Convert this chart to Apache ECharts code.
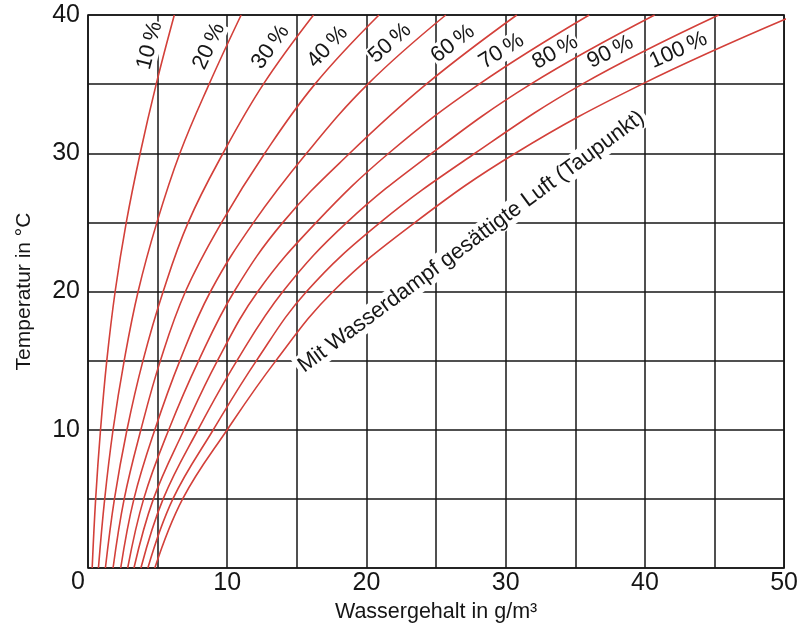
<!DOCTYPE html>
<html>
<head>
<meta charset="utf-8">
<script src="https://cdn.jsdelivr.net/npm/echarts@6/dist/echarts.min.js"></script>
<style>
  html, body { margin: 0; padding: 0; background: #fff; }
  #chart { width: 801px; height: 632px; }
</style>
</head>
<body>
<div id="chart"></div>
<script>
// Temperature steps (°C) at which the water content of each curve is given
const temps = [0, 5, 10, 15, 20, 25, 30, 35, 40];

// Water content in g/m³ for each relative humidity
const rh10  = [0.3, 0.55, 0.9, 1.35, 1.95, 2.75, 3.75, 4.9, 6.2];
const rh20  = [0.75, 1.2, 1.8, 2.6, 3.6, 4.95, 6.6, 8.7, 11.0];
const rh30  = [1.25, 1.9, 2.8, 3.95, 5.4, 7.2, 9.7, 12.6, 16.2];
const rh40  = [1.8, 2.6, 3.8, 5.2, 7.0, 9.6, 12.7, 16.3, 20.9];
const rh50  = [2.35, 3.3, 4.8, 6.6, 8.8, 11.9, 15.7, 20.1, 25.7];
const rh60  = [2.85, 4.0, 5.8, 7.95, 10.5, 14.0, 18.8, 24.3, 30.8];
const rh70  = [3.3, 4.7, 6.9, 9.3, 12.2, 16.4, 21.6, 28.1, 36.0];
const rh80  = [3.8, 5.4, 7.9, 10.7, 14.0, 18.6, 24.7, 31.8, 40.7];
const rh90  = [4.3, 6.1, 9.0, 12.1, 15.7, 21.0, 27.8, 35.5, 45.3];
const rh100 = [4.8, 6.8, 10.0, 13.5, 17.6, 23.5, 30.7, 39.8, 50.8];

const curves = [rh10, rh20, rh30, rh40, rh50, rh60, rh70, rh80, rh90, rh100];
const curveLabels = ['10\u2009%', '20\u2009%', '30\u2009%', '40\u2009%', '50\u2009%',
                     '60\u2009%', '70\u2009%', '80\u2009%', '90\u2009%', '100\u2009%'];
const saturationText = 'Mit Wasserdampf gesättigte Luft (Taupunkt)';

const xTitle = 'Wassergehalt in g/m³';
const yTitle = 'Temperatur in °C';

// temperature along each curve where its percentage label sits
const labelTemps = [37.5, 37.25, 37, 36.9, 37.1, 37, 36.4, 36.3, 36.3, 36.4];

const RED = '#d3403a';
const INK = '#161616';
const FONT = '"Liberation Sans", Arial, Helvetica, sans-serif';

const chart = echarts.init(document.getElementById('chart'), null, { renderer: 'canvas' });

const series = curves.map((vals, i) => ({
  type: 'line',
  name: curveLabels[i],
  data: vals.map((w, j) => [w, temps[j]]),
  showSymbol: false,
  smooth: 0.4,
  clip: true,
  lineStyle: { color: RED, width: 1.6 },
  z: 5,
  silent: true
}));

chart.setOption({
  animation: false,
  grid: {
    left: 88, right: 13, top: 15, bottom: 64,
    show: true, borderColor: INK, borderWidth: 1.6
  },
  xAxis: {
    type: 'value', min: 0, max: 50, interval: 5,
    name: xTitle, nameLocation: 'middle', nameGap: 33,
    nameTextStyle: { fontFamily: FONT, fontSize: 21.5, color: INK },
    axisLine: { show: false },
    axisTick: { show: false },
    axisLabel: {
      margin: 3, fontFamily: FONT, fontSize: 25, color: INK,
      formatter: v => (v > 0 && v % 10 === 0) ? String(v) : ''
    },
    splitLine: { show: true, lineStyle: { color: INK, width: 1.5 } }
  },
  yAxis: {
    type: 'value', min: 0, max: 40, interval: 5,
    name: yTitle, nameLocation: 'middle', nameGap: 53,
    nameTextStyle: { fontFamily: FONT, fontSize: 21, color: INK },
    axisLine: { show: false },
    axisTick: { show: false },
    axisLabel: {
      margin: 8, fontFamily: FONT, fontSize: 25, color: INK,
      formatter: v => (v > 0 && v % 10 === 0) ? String(v) : ''
    },
    splitLine: { show: true, lineStyle: { color: INK, width: 1.5 } }
  },
  series: series
});

// pixel position on a curve at temperature t (linear between stored steps)
function curvePoint(vals, t) {
  let j = 0;
  while (j < temps.length - 2 && temps[j + 1] < t) j++;
  const f = (t - temps[j]) / (temps[j + 1] - temps[j]);
  const w = vals[j] + (vals[j + 1] - vals[j]) * f;
  return chart.convertToPixel({ gridIndex: 0 }, [w, t]);
}

const graphics = [];

// percentage labels, rotated along the upper end of each curve;
// their white boxes hide the grid but stay beneath the red curves
curves.forEach((vals, i) => {
  const a = chart.convertToPixel({ gridIndex: 0 }, [vals[7], temps[7]]);
  const b = chart.convertToPixel({ gridIndex: 0 }, [vals[8], temps[8]]);
  const theta = Math.atan2(a[1] - b[1], b[0] - a[0]);
  const foot = curvePoint(vals, labelTemps[i]);
  const d = 16;
  graphics.push({
    type: 'text',
    x: foot[0] - d * Math.sin(theta),
    y: foot[1] - d * Math.cos(theta),
    rotation: theta,
    z: 1,
    style: {
      text: curveLabels[i],
      x: 0, y: 0,
      align: 'center', verticalAlign: 'middle',
      font: '22px ' + FONT,
      fill: INK,
      backgroundColor: '#fff',
      padding: [0, 1]
    }
  });
});

// dew point caption beneath the 100 % curve
(function () {
  const p = curvePoint(rh100, 16);
  const q = curvePoint(rh100, 34);
  const theta = Math.atan2(p[1] - q[1], q[0] - p[0]) - 0.01;
  const mx = (p[0] + q[0]) / 2, my = (p[1] + q[1]) / 2;
  const d = 27, along = 4;
  graphics.push({
    type: 'text',
    x: mx + d * Math.sin(theta) + along * Math.cos(theta),
    y: my + d * Math.cos(theta) - along * Math.sin(theta),
    rotation: theta,
    z: 1,
    style: {
      text: saturationText,
      x: 0, y: 0,
      align: 'center', verticalAlign: 'middle',
      font: '22px ' + FONT,
      fill: INK,
      backgroundColor: '#fff',
      padding: [1, 3]
    }
  });
})();

// shared origin label at the lower-left corner
const origin = chart.convertToPixel({ gridIndex: 0 }, [0, 0]);
graphics.push({
  type: 'text',
  x: origin[0] - 10, y: origin[1] + 14,
  style: {
    text: '0', x: 0, y: 0,
    align: 'center', verticalAlign: 'middle',
    font: '25px ' + FONT, fill: INK
  }
});

chart.setOption({ graphic: graphics });
</script>
</body>
</html>
